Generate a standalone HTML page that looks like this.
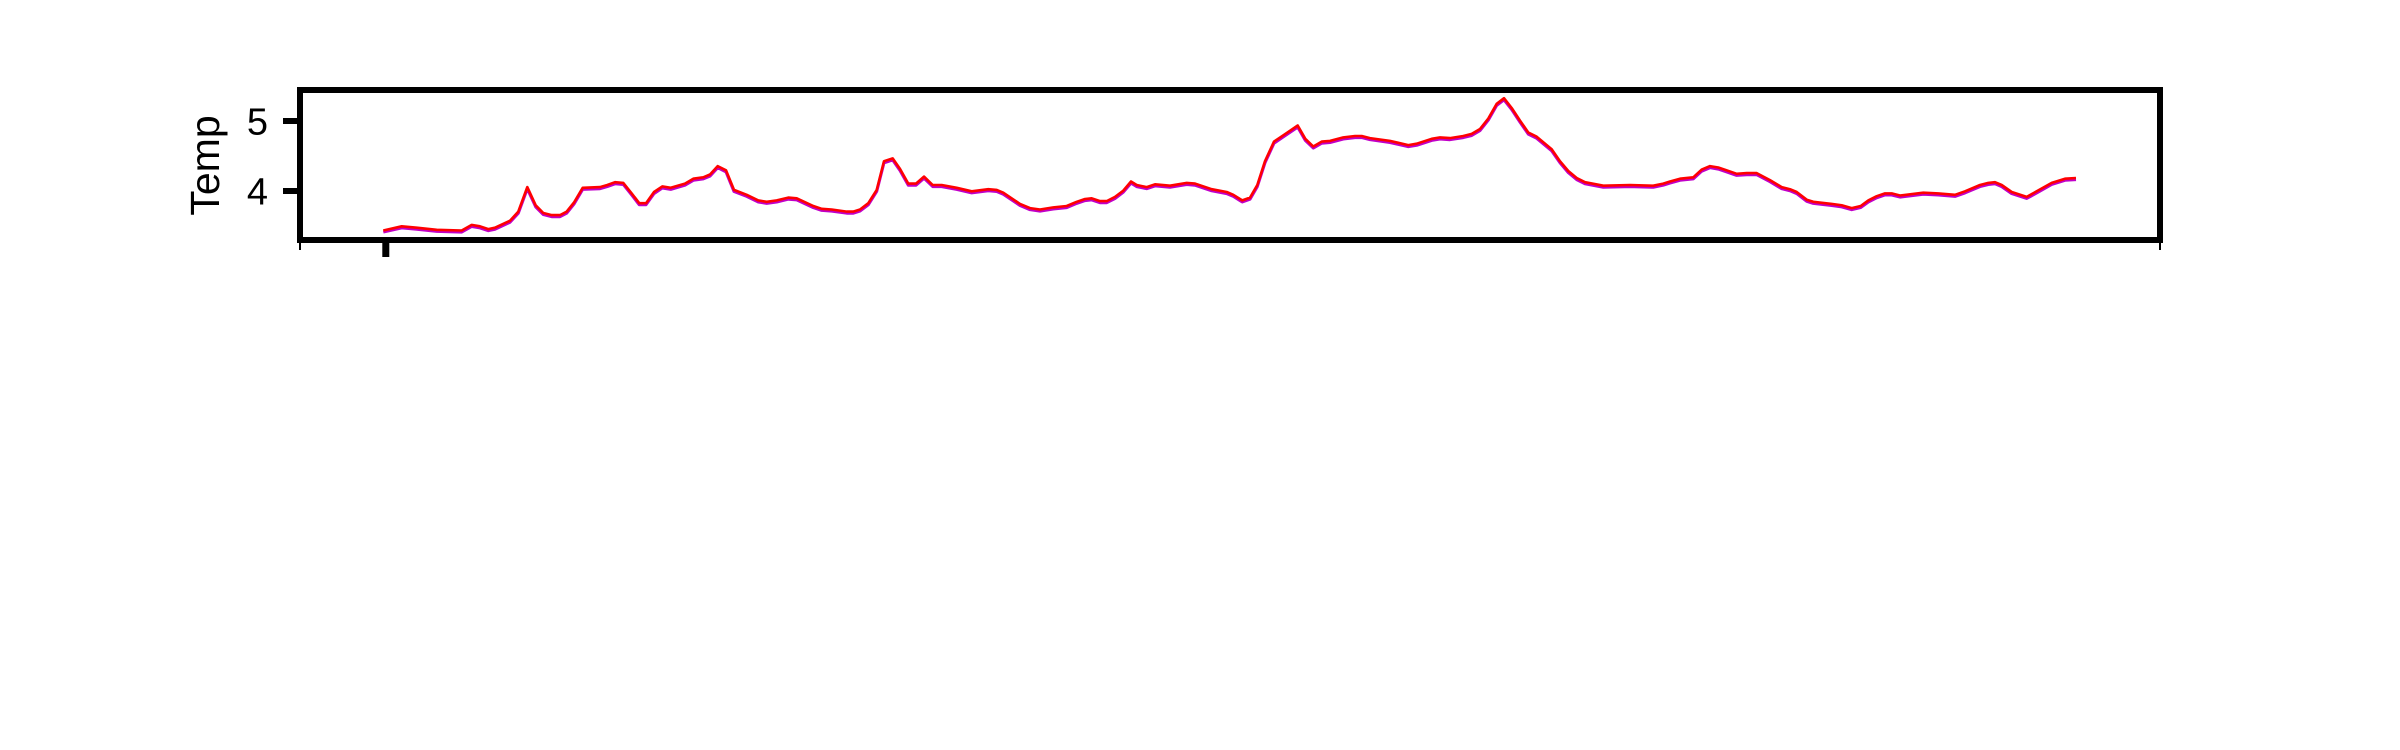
<!DOCTYPE html>
<html><head><meta charset="utf-8"><style>
html,body{margin:0;padding:0;background:#fff;}
svg{display:block;font-family:"Liberation Sans",Arial,sans-serif;}
</style></head><body>
<svg id="chart" width="2400" height="750" viewBox="0 0 2400 750" xmlns="http://www.w3.org/2000/svg">
<rect x="0" y="0" width="2400" height="750" fill="#fff"/>
<g id="marks"></g>
<rect x="300" y="90" width="1860" height="150" fill="none" stroke="#000" stroke-width="6"/>
<g id="axes"></g>
<text x="0" y="0" transform="translate(219,165.5) rotate(-90)" text-anchor="middle" font-size="41" fill="#000">Temp</text>
</svg>
<script>
const times = [83.3,101.7,116.7,136.7,161.7,171.7,180,188.3,195,210,218.3,227.3,235.7,243.3,251.7,260,266.7,274,282.7,300,307.3,315,323.3,331.7,339.3,346,354,362.3,370.7,385,393.3,403.3,410,417.7,426,434,446.7,458.3,466.7,476.7,488.3,496.7,
513.3,521.7,531.7,546.7,553.3,560,568.3,576.7,584,592.7,600,608.3,616,624,632.7,641.7,656.7,671.7,688.3,696.7,703.3,720,730,740,753.3,766.7,776.7,785,791.7,800,806.7,815,823.3,831,836.7,846.7,855,870,878.3,886.7,895,911.7,926.7,933.3,940,
942.3,950,957.3,965,974,983.3,997.7,1005.3,1013.3,1021.7,1030,1043.3,1055,1061.7,1070,1090,1108.3,1116.7,1131.7,1140,1150,1163.3,1171.7,1180,1188.3,1196.7,1204,1211.7,1220,1228.3,1236.7,1251.7,1260,1268.3,1276.7,1285,1303.3,1330,1353.3,1363.3,1370,
1380,1393.3,1401.7,1410,1418.3,1426.7,1436.7,1446.7,1456.7,1470,1481.7,1490,1496.7,1506.7,1513.3,1531.7,1541.7,1551.7,1560.7,1568.3,1576.7,1585,1591.7,1600,1623.3,1638.3,1655,1665,1680,1688.3,1695,1701.7,1711.7,1726.7,1736.7,1751.7,1765,1776];
const temps = [3.43,3.49,3.47,3.44,3.43,3.51,3.49,3.45,3.47,3.57,3.70,4.05,3.79,3.68,3.65,3.65,3.70,3.83,4.04,4.05,4.08,4.12,4.11,3.96,3.82,3.82,3.98,4.06,4.04,4.10,4.17,4.19,4.23,4.35,4.29,4.01,3.94,3.86,3.84,3.86,3.90,3.89,
3.78,3.74,3.73,3.70,3.70,3.73,3.82,4.01,4.42,4.46,4.31,4.10,4.10,4.20,4.08,4.08,4.04,3.99,4.02,4.01,3.97,3.81,3.75,3.73,3.76,3.78,3.84,3.88,3.89,3.85,3.85,3.91,4.00,4.13,4.08,4.05,4.09,4.07,4.09,4.11,4.10,4.02,3.98,3.94,3.88,
3.86,3.90,4.08,4.42,4.70,4.79,4.93,4.74,4.63,4.70,4.71,4.76,4.78,4.78,4.75,4.71,4.65,4.67,4.74,4.76,4.75,4.78,4.81,4.88,5.03,5.24,5.32,5.18,5.00,4.83,4.77,4.59,4.42,4.28,4.18,4.12,4.07,4.08,4.07,4.10,4.13,
4.17,4.19,4.30,4.35,4.33,4.29,4.24,4.25,4.25,4.15,4.05,4.02,3.98,3.87,3.84,3.81,3.79,3.75,3.78,3.86,3.92,3.96,3.96,3.93,3.97,3.96,3.94,3.99,4.08,4.11,4.12,4.08,3.98,3.91,3.99,4.11,4.17,4.18];
const yTicks = [4, 5];
const yTickLabels = ["4", "5"];
const xDomain = [0, 1860];
const yDomain = [3.3, 5.4429];

const NS = "http://www.w3.org/2000/svg";
const PX0 = 300, PX1 = 2160, PY0 = 240, PY1 = 90;
function xs(t){ return PX0 + (t - xDomain[0]) / (xDomain[1] - xDomain[0]) * (PX1 - PX0); }
function ys(v){ return PY0 - (v - yDomain[0]) / (yDomain[1] - yDomain[0]) * (PY0 - PY1); }

const marks = document.getElementById('marks');
const axes = document.getElementById('axes');
function pathD(off){
  return times.map((t,i)=>(i?'L':'M')+xs(t).toFixed(1)+','+(ys(temps[i])+off).toFixed(1)).join(' ');
}
const shadow = document.createElementNS(NS,'path');
shadow.setAttribute('d', pathD(1.2));
shadow.setAttribute('fill','none');
shadow.setAttribute('stroke','#c000c8');
shadow.setAttribute('stroke-width','3');
shadow.setAttribute('stroke-linejoin','round');


marks.appendChild(shadow);
const line = document.createElementNS(NS,'path');
line.setAttribute('d', pathD(-0.4));
line.setAttribute('fill','none');
line.setAttribute('stroke','#ff0000');
line.setAttribute('stroke-width','2.6');
line.setAttribute('stroke-linejoin','round');


marks.appendChild(line);

yTicks.forEach((v,i)=>{
  const tk = document.createElementNS(NS,'rect');
  tk.setAttribute('x', 283); tk.setAttribute('y', ys(v)-3);
  tk.setAttribute('width', 17); tk.setAttribute('height', 6);
  tk.setAttribute('fill','#000');
  
  
  axes.appendChild(tk);
  const lb = document.createElementNS(NS,'text');
  lb.setAttribute('x', 268); lb.setAttribute('y', ys(v)+13.5);
  lb.setAttribute('text-anchor','end');
  lb.setAttribute('font-size','38');
  lb.textContent = yTickLabels[i];
  
  
  axes.appendChild(lb);
});
const xt = document.createElementNS(NS,'rect');
xt.setAttribute('x', xs(times[0])-1); xt.setAttribute('y', 243);
xt.setAttribute('width', 7); xt.setAttribute('height', 14);
xt.setAttribute('fill','#000');


axes.appendChild(xt);
[xDomain[0], xDomain[1]].forEach(t=>{
  const m = document.createElementNS(NS,'rect');
  m.setAttribute('x', xs(t)-1); m.setAttribute('y', 243);
  m.setAttribute('width', 2); m.setAttribute('height', 7);
  m.setAttribute('fill','#000');
  
  
  axes.appendChild(m);
});
</script>
</body></html>
